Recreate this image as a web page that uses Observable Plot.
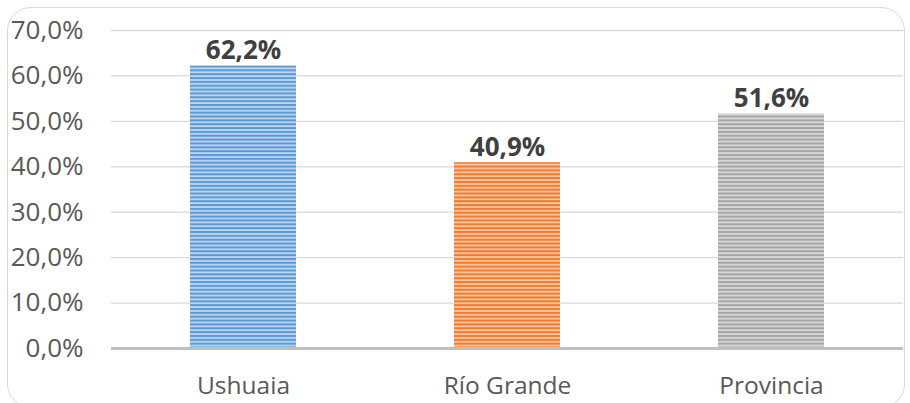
<!DOCTYPE html>
<html>
<head>
<meta charset="utf-8">
<script src="https://cdn.jsdelivr.net/npm/d3@7"></script>
<script src="https://cdn.jsdelivr.net/npm/@observablehq/plot@0.6"></script>
<style>
  html, body { margin: 0; padding: 0; background: #fff; overflow: hidden; }
  #wrap { position: relative; width: 910px; height: 403px; overflow: hidden; }
  #frame { position: absolute; left: 7px; top: 7px; width: 898px; height: 401px;
           border: 1.5px solid #d9d9d9; border-radius: 24px; box-sizing: border-box; }
  #chart { position: absolute; left: 0; top: 0; }
</style>
</head>
<body>
<div id="wrap"><div id="frame"></div><div id="chart"></div></div>
<script>
const categories = ["Ushuaia", "Río Grande", "Provincia"];
const values = [62.2, 40.9, 51.6];
const yTicks = [0, 10, 20, 30, 40, 50, 60, 70];
const patternIds = ["pBlue", "pOrange", "pGray"];
const patternColors = [["#5b9bd5", "#c2d8ef"], ["#ed7d31", "#f9c9a6"], ["#a5a5a5", "#dadada"]];

const data = categories.map((c, i) => ({category: c, value: values[i]}));
const fmt = v => v.toFixed(1).replace(".", ",") + "%";

const chart = Plot.plot({
  width: 910,
  height: 403,
  marginLeft: 111,
  marginRight: 7,
  marginTop: 30,
  marginBottom: 55,
  style: {fontFamily: "'Open Sans', sans-serif", color: "#595959", background: "transparent"},
  x: {domain: categories, paddingInner: 0.6, paddingOuter: 0.3},
  y: {domain: [0, 70]},
  color: {domain: categories, range: patternIds.map(id => `url(#${id})`)},
  marks: [
    Plot.gridY(yTicks, {stroke: "#d9d9d9", strokeOpacity: 1, strokeWidth: 1.3}),
    Plot.barY(data, {x: "category", y: "value", fill: "category"}),
    Plot.ruleY([0], {stroke: "#bfbfbf", strokeWidth: 3}),
    Plot.axisY({ticks: yTicks, tickSize: 0, tickPadding: 28, fontSize: 26, tickFormat: fmt, label: null}),
    Plot.axisX({tickSize: 0, tickPadding: 28, fontSize: 24.5, label: null}),
    Plot.text(data, {x: "category", y: "value", text: d => fmt(d.value), lineAnchor: "bottom", dy: -7,
                     fontSize: 26, fontWeight: "bold", fill: "#404040"})
  ]
});

const svg = d3.select(chart);
const defs = svg.insert("defs", ":first-child");
patternIds.forEach((id, i) => {
  const p = defs.append("pattern").attr("id", id).attr("patternUnits", "userSpaceOnUse")
    .attr("width", 10).attr("height", 3.85);
  p.append("rect").attr("width", 10).attr("height", 3.85).attr("fill", patternColors[i][1]);
  p.append("rect").attr("width", 10).attr("height", 2.1).attr("fill", patternColors[i][0]);
});
document.getElementById("chart").append(chart);
</script>
</body>
</html>
